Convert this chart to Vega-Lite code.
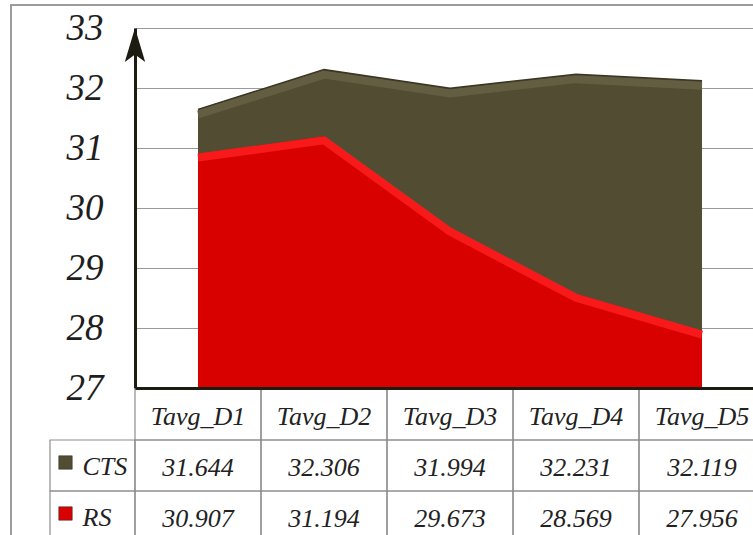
{
  "$schema": "https://vega.github.io/schema/vega-lite/v6.json",
  "width": 630,
  "height": 360,
  "autosize": {"type": "none"},
  "padding": {"left": 135, "top": 28, "right": -12, "bottom": 147},
  "background": "white",
  "config": {"view": {"stroke": null}, "font": "Liberation Serif, DejaVu Serif, serif"},
  "datasets": {
    "temps": [
      {"day": "Tavg_D1", "series": "CTS", "value": 31.644},
      {"day": "Tavg_D2", "series": "CTS", "value": 32.306},
      {"day": "Tavg_D3", "series": "CTS", "value": 31.994},
      {"day": "Tavg_D4", "series": "CTS", "value": 32.231},
      {"day": "Tavg_D5", "series": "CTS", "value": 32.119},
      {"day": "Tavg_D1", "series": "RS", "value": 30.907},
      {"day": "Tavg_D2", "series": "RS", "value": 31.194},
      {"day": "Tavg_D3", "series": "RS", "value": 29.673},
      {"day": "Tavg_D4", "series": "RS", "value": 28.569},
      {"day": "Tavg_D5", "series": "RS", "value": 27.956}
    ],
    "series": [{"series": "CTS"}, {"series": "RS"}],
    "frame": [{"part": "chart area"}]
  },
  "layer": [
    {
      "description": "Chart area border",
      "data": {"name": "frame"},
      "mark": {"type": "rect", "filled": false, "stroke": "#9c9c9c", "strokeWidth": 2},
      "encoding": {
        "x": {"datum": 0, "type": "quantitative", "scale": {"domain": [0, 1], "range": [-124, 640]}, "axis": null},
        "x2": {"datum": 1},
        "y": {"datum": 0, "type": "quantitative", "scale": {"domain": [0, 1], "range": [-23, 530]}, "axis": null},
        "y2": {"datum": 1}
      }
    },
    {
      "description": "Plot: overlapping areas on a 27-33 scale",
      "data": {"name": "temps"},
      "layer": [
        {
          "transform": [{"filter": "datum.series === 'CTS'"}],
          "mark": {"type": "area", "color": "#524c32"},
          "encoding": {
            "x": {
              "field": "day", "type": "nominal", "bandPosition": 0.5,
              "scale": {"type": "band", "paddingInner": 0, "paddingOuter": 0},
              "axis": {"labels": false, "ticks": false, "grid": false, "title": null, "domain": true, "domainColor": "#1c1c12", "domainWidth": 3, "zindex": 1}
            },
            "y": {
              "field": "value", "type": "quantitative",
              "scale": {"domain": [27, 33], "zero": false, "nice": false},
              "axis": {
                "values": [27, 28, 29, 30, 31, 32, 33], "format": "d", "title": null, "ticks": false,
                "labelFont": "Liberation Serif, DejaVu Serif, serif", "labelFontStyle": "italic", "labelFontSize": 37,
                "labelColor": "#1e1e1e", "labelPadding": 32,
                "domainColor": "#1c1c12", "domainWidth": 3,
                "grid": true, "gridColor": "#9a9a9a", "gridWidth": 1.2, "zindex": 0
              }
            },
            "y2": {"datum": 27}
          }
        },
        {
          "transform": [{"filter": "datum.series === 'CTS'"}],
          "mark": {"type": "line", "color": "#6f6a4b", "strokeWidth": 8, "yOffset": 5, "opacity": 0.6},
          "encoding": {
            "x": {"field": "day", "type": "nominal", "bandPosition": 0.5},
            "y": {"field": "value", "type": "quantitative"}
          }
        },
        {
          "transform": [{"filter": "datum.series === 'CTS'"}],
          "mark": {"type": "line", "color": "#3a3624", "strokeWidth": 1.5},
          "encoding": {
            "x": {"field": "day", "type": "nominal", "bandPosition": 0.5},
            "y": {"field": "value", "type": "quantitative"}
          }
        },
        {
          "transform": [{"filter": "datum.series === 'RS'"}],
          "mark": {"type": "area", "color": "#d90000"},
          "encoding": {
            "x": {"field": "day", "type": "nominal", "bandPosition": 0.5},
            "y": {"field": "value", "type": "quantitative"},
            "y2": {"datum": 27}
          }
        },
        {
          "transform": [{"filter": "datum.series === 'RS'"}],
          "mark": {"type": "line", "color": "#ff2020", "strokeWidth": 8, "yOffset": 4, "opacity": 0.8},
          "encoding": {
            "x": {"field": "day", "type": "nominal", "bandPosition": 0.5},
            "y": {"field": "value", "type": "quantitative"}
          }
        },
        {
          "description": "Arrow head on top of the value axis",
          "data": {"values": [{"top": 33}]},
          "mark": {"type": "point", "shape": "M0,0L0.3,1L0,0.78L-0.3,1Z", "filled": true, "color": "#1c1c12", "size": 4624, "opacity": 1},
          "encoding": {
            "x": {"datum": "Tavg_D1", "bandPosition": 0},
            "y": {"field": "top", "type": "quantitative"}
          }
        }
      ]
    },
    {
      "description": "Data table under the plot",
      "data": {"name": "temps"},
      "layer": [
        {
          "mark": {"type": "rect", "filled": false, "stroke": "#8e8e8e", "strokeWidth": 1.2},
          "encoding": {
            "x": {"field": "day", "type": "nominal", "scale": {"type": "band", "paddingInner": 0, "paddingOuter": 0}, "axis": null},
            "y": {"field": "series", "type": "nominal", "scale": {"type": "band", "domain": ["header", "CTS", "RS"], "range": [361, 514], "paddingInner": 0, "paddingOuter": 0}, "axis": null}
          }
        },
        {
          "transform": [{"filter": "datum.series === 'CTS'"}],
          "mark": {"type": "rect", "filled": false, "stroke": "#8e8e8e", "strokeWidth": 1.2},
          "encoding": {
            "x": {"field": "day", "type": "nominal"},
            "y": {"datum": "header", "type": "nominal"}
          }
        },
        {
          "transform": [{"filter": "datum.series === 'CTS'"}],
          "mark": {"type": "text", "font": "Liberation Serif, DejaVu Serif, serif", "fontStyle": "italic", "fontSize": 26, "color": "#222222", "baseline": "middle", "dy": 2},
          "encoding": {
            "x": {"field": "day", "type": "nominal"},
            "y": {"datum": "header", "type": "nominal"},
            "text": {"field": "day"}
          }
        },
        {
          "mark": {"type": "text", "font": "Liberation Serif, DejaVu Serif, serif", "fontStyle": "italic", "fontSize": 26, "color": "#222222", "baseline": "middle", "dy": 2},
          "encoding": {
            "x": {"field": "day", "type": "nominal"},
            "y": {"field": "series", "type": "nominal"},
            "text": {"field": "value", "format": ".3f"}
          }
        }
      ]
    },
    {
      "description": "Legend keys at the left of the data table",
      "data": {"name": "series"},
      "layer": [
        {
          "mark": {"type": "rect", "filled": false, "stroke": "#8e8e8e", "strokeWidth": 1.2},
          "encoding": {
            "x": {"datum": "key", "type": "nominal", "scale": {"type": "band", "domain": ["key"], "range": [-85, 0], "paddingInner": 0, "paddingOuter": 0}, "axis": null},
            "y": {"field": "series", "type": "nominal", "scale": {"type": "band", "domain": ["header", "CTS", "RS"], "range": [361, 514], "paddingInner": 0, "paddingOuter": 0}, "axis": null}
          }
        },
        {
          "mark": {"type": "point", "shape": "square", "filled": true, "size": 180, "xOffset": -27, "yOffset": -3, "opacity": 1, "stroke": "#333333", "strokeWidth": 0.6},
          "encoding": {
            "x": {"datum": "key", "type": "nominal"},
            "y": {"field": "series", "type": "nominal"},
            "color": {"field": "series", "type": "nominal", "scale": {"domain": ["CTS", "RS"], "range": ["#524c32", "#d90000"]}, "legend": null}
          }
        },
        {
          "mark": {"type": "text", "font": "Liberation Serif, DejaVu Serif, serif", "fontStyle": "italic", "fontSize": 26, "color": "#222222", "align": "left", "baseline": "middle", "dx": -10, "dy": 1},
          "encoding": {
            "x": {"datum": "key", "type": "nominal"},
            "y": {"field": "series", "type": "nominal"},
            "text": {"field": "series"}
          }
        }
      ]
    }
  ],
  "resolve": {
    "scale": {"x": "independent", "y": "independent", "color": "independent"},
    "axis": {"x": "independent", "y": "independent"}
  }
}
